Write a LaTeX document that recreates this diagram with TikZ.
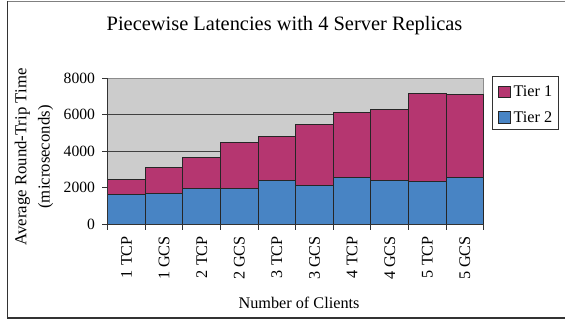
\documentclass[tikz,border=0pt]{standalone}
\usepackage{fontspec}
\setmainfont{Liberation Serif}
\usepackage{tikz}
\definecolor{TierOne}{RGB}{181,54,112}
\definecolor{TierTwo}{RGB}{72,132,196}
\definecolor{PlotBG}{RGB}{204,204,204}

\begin{document}
\begin{tikzpicture}[x=1bp,y=1bp,
  txt/.style={font=\fontsize{16.3}{23}\selectfont,inner sep=0pt},
  ticklbl/.style={font=\fontsize{15.7}{18}\selectfont,inner sep=0pt},
  bar/.style={draw=black!85,line width=1bp},
  gridline/.style={draw=black!75,line width=0.8bp},
  axis/.style={draw=black!80,line width=1bp}
]
\useasboundingbox (0,0) rectangle (565,320);
% outer frame, open on the right
\draw[black!50,line width=0.8bp] (7.5,319) -- (566,319);
\draw[black!80,line width=1.3bp] (566,2) -- (7.5,2) -- (7.5,319);

\node[font=\fontsize{20.5}{24}\selectfont,inner sep=0pt,anchor=base] (title) at (284.5,289.3) {Piecewise Latencies with 4 Server Replicas};

% plot area: one unit = one bar across, 1000 microseconds up
\begin{scope}[shift={(107.7,95.7)},x=37.6bp,y=18.25bp]
\fill[PlotBG] (0,0) rectangle (10,8);
\draw[black!45,line width=0.8bp] (0,8) -- (10,8) -- (10,0);
\foreach \v in {2,4,6} \draw[gridline] (0,\v) -- (10,\v);
\foreach \low/\top [count=\i from 0] in {1.66/2.43,1.68/3.10,1.97/3.65,1.97/4.46,2.41/4.82,
    2.15/5.49,2.55/6.12,2.41/6.30,2.36/7.16,2.55/7.09} {
  \filldraw[bar,fill=TierTwo] (\i,0) rectangle (\i+1,\low);
  \filldraw[bar,fill=TierOne] (\i,\low) rectangle (\i+1,\top);
}
\draw[axis] (0,8) -- (0,0) -- (10,0);
\foreach \v/\lab in {0/0,2/2000,4/4000,6/6000,8/8000} {
  \draw[axis] (0,\v) -- ++(-6bp,0);
  \node[ticklbl,anchor=east] (y\v) at ([xshift=-12.5bp]0,\v) {\lab};
}
\foreach \i in {0,...,10} \draw[axis] (\i,0) -- ++(0,-6bp);
\foreach \name [count=\i] in {1 TCP,1 GCS,2 TCP,2 GCS,3 TCP,3 GCS,4 TCP,4 GCS,5 TCP,5 GCS}
  \node[txt,rotate=90,anchor=east] (c\i) at ([yshift=-11.7bp]\i-0.5,0) {\name};
\end{scope}

\node[txt,font=\fontsize{16.8}{23.5}\selectfont,rotate=90,align=center] (ylab) at (34,163) {Average Round-Trip Time\\(microseconds)};
\node[txt,anchor=base] (xlab) at (299,12) {Number of Clients};

% legend
\draw[black!80,line width=0.9bp] (492.7,190.7) rectangle (558,243.3);
\filldraw[bar,fill=TierOne] (498.3,222.7) rectangle (510,234);
\node[txt,anchor=base west] (t1) at (513.3,223.3) {Tier 1};
\filldraw[bar,fill=TierTwo] (498.3,196.7) rectangle (510,208.3);
\node[txt,anchor=base west] (t2) at (513.3,197.7) {Tier 2};
\end{tikzpicture}
\end{document}
